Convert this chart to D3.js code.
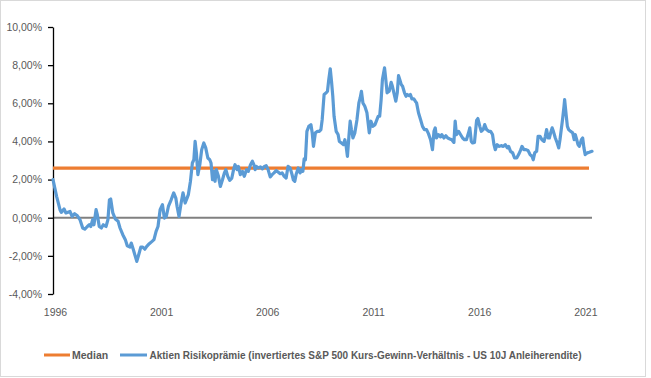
<!DOCTYPE html>
<html>
<head>
<meta charset="utf-8">
<script src="https://cdn.jsdelivr.net/npm/d3@7"></script>
<style>
    body { margin: 0; background: #fff; }
    text { font-family: "Liberation Sans", Arial, sans-serif; }
</style>
</head>
<body>
<div id="content"></div>
<script>
// ******* DATA *******
// [decimal year, risk premium in %]
const premiumSeries = [
    [1996.00, 2.00], [1996.17, 1.12], [1996.33, 0.42], [1996.39, 0.28], [1996.52, 0.46], [1996.61, 0.25],
    [1996.80, 0.33], [1996.90, 0.07], [1997.02, 0.21], [1997.15, 0.10], [1997.27, -0.10], [1997.40, -0.54],
    [1997.50, -0.60], [1997.62, -0.46], [1997.71, -0.37], [1997.78, -0.46], [1997.87, -0.10], [1997.93, -0.37],
    [1998.03, 0.42], [1998.09, 0.16], [1998.18, -0.46], [1998.28, -0.54], [1998.37, -0.37], [1998.50, -0.46],
    [1998.59, -0.10], [1998.66, 0.94], [1998.72, 0.98], [1998.82, 0.25], [1998.94, -0.07], [1999.07, -0.19],
    [1999.16, -0.54], [1999.29, -0.89], [1999.41, -1.15], [1999.50, -1.47], [1999.63, -1.54], [1999.69, -1.33],
    [1999.79, -1.68], [1999.88, -2.03], [1999.95, -2.29], [2000.04, -1.94], [2000.14, -1.54], [2000.23, -1.54],
    [2000.33, -1.65], [2000.42, -1.50], [2000.54, -1.36], [2000.67, -1.24], [2000.76, -1.15], [2000.86, -0.72],
    [2000.95, -0.46], [2001.05, 0.42], [2001.16, 0.68], [2001.25, -0.02], [2001.34, 0.07], [2001.44, 0.59],
    [2001.57, 0.94], [2001.69, 1.30], [2001.79, 1.03], [2001.85, 0.59], [2001.94, 0.07], [2002.04, 0.77],
    [2002.13, 1.30], [2002.23, 0.77], [2002.32, 1.03], [2002.38, 1.21], [2002.48, 1.91], [2002.57, 2.87],
    [2002.64, 3.04], [2002.70, 4.00], [2002.76, 3.40], [2002.83, 2.26], [2002.92, 2.78], [2003.01, 3.57],
    [2003.11, 3.92], [2003.20, 3.66], [2003.30, 3.13], [2003.39, 3.04], [2003.45, 2.87], [2003.52, 1.99],
    [2003.58, 2.43], [2003.64, 1.91], [2003.70, 2.52], [2003.80, 2.17], [2003.89, 1.64], [2003.99, 1.99],
    [2004.08, 2.35], [2004.15, 2.52], [2004.24, 2.17], [2004.33, 1.96], [2004.43, 2.08], [2004.52, 2.56],
    [2004.58, 2.78], [2004.68, 2.52], [2004.74, 2.69], [2004.83, 2.26], [2004.93, 2.43], [2005.02, 2.17],
    [2005.12, 2.52], [2005.21, 2.43], [2005.31, 2.78], [2005.40, 2.96], [2005.47, 2.78], [2005.53, 2.52],
    [2005.59, 2.69], [2005.68, 2.61], [2005.78, 2.66], [2005.87, 2.56], [2005.97, 2.69], [2006.05, 2.73],
    [2006.14, 2.52], [2006.24, 2.14], [2006.33, 2.26], [2006.42, 2.35], [2006.52, 2.47], [2006.61, 2.40],
    [2006.71, 2.31], [2006.80, 2.35], [2006.90, 2.17], [2006.99, 2.08], [2007.08, 2.69], [2007.18, 2.61],
    [2007.27, 2.26], [2007.33, 1.99], [2007.40, 1.91], [2007.46, 2.26], [2007.56, 2.61], [2007.65, 2.35],
    [2007.71, 2.52], [2007.78, 2.43], [2007.84, 3.08], [2007.90, 3.04], [2007.97, 4.53], [2008.06, 4.79],
    [2008.16, 4.88], [2008.22, 4.45], [2008.28, 3.74], [2008.37, 4.45], [2008.47, 4.53], [2008.56, 4.53],
    [2008.63, 4.62], [2008.69, 5.14], [2008.78, 6.46], [2008.88, 6.55], [2008.94, 6.63], [2009.00, 7.24],
    [2009.07, 7.81], [2009.13, 7.15], [2009.19, 6.37], [2009.25, 5.32], [2009.35, 4.53], [2009.44, 4.36],
    [2009.50, 4.00], [2009.60, 3.92], [2009.69, 3.83], [2009.76, 4.09], [2009.82, 3.74], [2009.88, 3.22],
    [2009.95, 4.27], [2010.01, 5.06], [2010.07, 4.62], [2010.14, 4.18], [2010.23, 4.45], [2010.33, 5.14],
    [2010.42, 6.02], [2010.48, 6.28], [2010.54, 6.63], [2010.61, 6.02], [2010.70, 5.84], [2010.80, 5.50],
    [2010.91, 4.45], [2010.99, 5.06], [2011.08, 4.79], [2011.18, 4.88], [2011.27, 5.14], [2011.33, 5.32],
    [2011.40, 5.32], [2011.47, 6.19], [2011.53, 7.24], [2011.63, 7.86], [2011.69, 7.24], [2011.75, 6.55],
    [2011.85, 6.63], [2011.94, 7.10], [2012.00, 6.89], [2012.07, 6.55], [2012.16, 6.11], [2012.23, 6.55],
    [2012.29, 7.45], [2012.35, 7.24], [2012.42, 6.98], [2012.48, 6.89], [2012.57, 6.55], [2012.64, 6.37],
    [2012.70, 6.46], [2012.79, 6.40], [2012.85, 6.46], [2012.92, 6.23], [2013.01, 6.23], [2013.08, 6.11],
    [2013.14, 6.02], [2013.23, 5.50], [2013.33, 5.14], [2013.42, 4.79], [2013.51, 4.62], [2013.61, 4.62],
    [2013.70, 4.41], [2013.80, 4.09], [2013.89, 3.57], [2013.96, 4.53], [2014.02, 4.71], [2014.08, 4.18],
    [2014.17, 4.36], [2014.27, 4.24], [2014.33, 4.36], [2014.43, 4.18], [2014.52, 4.30], [2014.61, 4.18],
    [2014.71, 4.13], [2014.80, 4.09], [2014.90, 3.95], [2014.96, 5.06], [2015.02, 4.36], [2015.12, 4.53],
    [2015.21, 4.36], [2015.31, 4.18], [2015.40, 4.09], [2015.49, 4.09], [2015.59, 4.45], [2015.65, 4.71],
    [2015.72, 4.00], [2015.78, 3.92], [2015.87, 3.95], [2015.97, 5.10], [2016.03, 5.20], [2016.12, 4.79],
    [2016.19, 4.53], [2016.28, 4.62], [2016.35, 4.88], [2016.44, 4.62], [2016.54, 4.53], [2016.63, 4.53],
    [2016.72, 4.36], [2016.79, 3.83], [2016.85, 3.57], [2016.94, 3.83], [2017.04, 3.74], [2017.13, 3.78],
    [2017.23, 3.74], [2017.32, 3.83], [2017.42, 3.66], [2017.48, 3.74], [2017.57, 3.48], [2017.67, 3.40],
    [2017.76, 3.13], [2017.86, 3.13], [2017.95, 3.31], [2018.04, 3.53], [2018.11, 3.74], [2018.20, 3.57],
    [2018.30, 3.57], [2018.39, 3.53], [2018.49, 3.31], [2018.58, 3.22], [2018.64, 3.04], [2018.71, 3.40],
    [2018.80, 3.48], [2018.87, 4.27], [2018.96, 4.27], [2019.05, 4.09], [2019.15, 4.00], [2019.21, 4.27],
    [2019.27, 4.62], [2019.34, 4.18], [2019.40, 4.18], [2019.46, 4.45], [2019.53, 4.71], [2019.59, 4.53],
    [2019.68, 4.18], [2019.77, 3.92], [2019.84, 3.66], [2019.90, 4.09], [2019.96, 4.62], [2020.03, 5.23],
    [2020.09, 5.84], [2020.12, 6.19], [2020.19, 5.41], [2020.25, 4.79], [2020.31, 4.62], [2020.40, 4.53],
    [2020.50, 4.45], [2020.57, 4.09], [2020.62, 4.36], [2020.69, 4.09], [2020.75, 3.83], [2020.81, 3.74],
    [2020.91, 4.09], [2020.97, 4.18], [2021.03, 3.66], [2021.09, 3.31], [2021.19, 3.40], [2021.28, 3.43],
    [2021.41, 3.48]
];

const medianValue = 2.6;

const yTickValues = [-4, -2, 0, 2, 4, 6, 8, 10];
const xTickYears = [1996, 2001, 2006, 2011, 2016, 2021];

const legendLabels = [
    "Median",
    "Aktien Risikoprämie (invertiertes S&P 500 Kurs-Gewinn-Verhältnis - US 10J Anleiherendite)"
];

// ******* COLORS *******
const BLUE = "#5b9bd5";
const ORANGE = "#ed7d31";
const TEXT_GRAY = "#595959";

// ******* SVG SETUP *******
const svg = d3.select("#content").append("svg")
    .attr("width", 651)
    .attr("height", 378);

// faint chart border
svg.append("rect")
    .attr("x", 0.5).attr("y", 0.5)
    .attr("width", 645).attr("height", 376)
    .attr("fill", "#fff")
    .attr("stroke", "#d9d9d9");

// ******* SCALES *******
const x = d3.scaleLinear()
    .domain([1996, d3.max(premiumSeries, d => d[0])])
    .range([53, 592]);

const y = d3.scaleLinear()
    .domain([-4, 10])
    .range([294, 27]);

const deLocale = d3.formatLocale({ decimal: ",", thousands: ".", grouping: [3], currency: ["", "€"], minus: "-" });
const pctFormat = v => deLocale.format(".2f")(v) + "%";

// ******* ZERO LINE *******
svg.append("line")
    .attr("x1", x(1996)).attr("x2", x.range()[1])
    .attr("y1", y(0)).attr("y2", y(0))
    .attr("stroke", "#808080")
    .attr("stroke-width", 2);

// ******* Y AXIS *******
const yAxis = svg.append("g")
    .attr("transform", `translate(${x(1996)},0)`)
    .call(d3.axisLeft(y)
        .tickValues(yTickValues)
        .tickSize(5)
        .tickSizeOuter(0)
        .tickPadding(6)
        .tickFormat(pctFormat));

yAxis.select(".domain").attr("stroke", "#000").attr("stroke-width", 1.3);
yAxis.selectAll(".tick line").attr("stroke", "#000").attr("stroke-width", 1.3);
yAxis.selectAll(".tick text")
    .attr("fill", TEXT_GRAY)
    .style("font-size", "10.5px");

// ******* X AXIS (labels only) *******
const xAxis = svg.append("g")
    .attr("transform", "translate(2,306)")
    .call(d3.axisBottom(x)
        .tickValues(xTickYears)
        .tickSize(0)
        .tickFormat(d3.format("d")));

xAxis.select(".domain").remove();
xAxis.selectAll(".tick text")
    .attr("fill", TEXT_GRAY)
    .style("font-size", "10.5px");

// ******* MEDIAN LINE *******
const [firstYear, lastYear] = d3.extent(premiumSeries, d => d[0]);
svg.append("line")
    .attr("x1", x(firstYear)).attr("x2", x(lastYear) - 3)
    .attr("y1", y(medianValue)).attr("y2", y(medianValue))
    .attr("stroke", ORANGE)
    .attr("stroke-width", 3.2);

// ******* RISK PREMIUM LINE *******
const line = d3.line()
    .x(d => x(d[0]))
    .y(d => y(d[1]));

svg.append("path")
    .datum(premiumSeries)
    .attr("fill", "none")
    .attr("stroke", BLUE)
    .attr("stroke-width", 3.2)
    .attr("stroke-linejoin", "round")
    .attr("stroke-linecap", "round")
    .attr("d", line);

// ******* LEGEND *******
const legendItems = [
    { label: legendLabels[0], color: ORANGE, x1: 44, x2: 70, tx: 72, width: null },
    { label: legendLabels[1], color: BLUE, x1: 120, x2: 147, tx: 149.5, width: 432 }
];

const legend = svg.append("g").attr("transform", "translate(0,355)");

legendItems.forEach(item => {
    legend.append("line")
        .attr("x1", item.x1).attr("x2", item.x2)
        .attr("y1", 0).attr("y2", 0)
        .attr("stroke", item.color)
        .attr("stroke-width", 3);

    const t = legend.append("text")
        .attr("x", item.tx)
        .attr("y", 0)
        .attr("dy", "0.35em")
        .attr("fill", TEXT_GRAY)
        .style("font-size", "10.5px")
        .style("font-weight", "bold")
        .text(item.label);

    if (item.width) {
        t.attr("textLength", item.width).attr("lengthAdjust", "spacingAndGlyphs");
    }
});
</script>
</body>
</html>
